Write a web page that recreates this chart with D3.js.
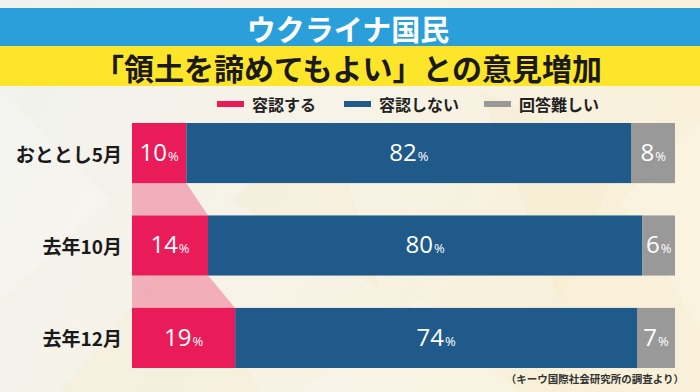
<!DOCTYPE html>
<html>
<head>
<meta charset="utf-8">
<script src="https://cdn.jsdelivr.net/npm/d3@7"></script>
<style>
  html, body { margin: 0; padding: 0; background: #f5f4ef; }
  svg { display: block; }
</style>
</head>
<body>
<svg id="chart"></svg>
<script>
// data
const periods = ["おととし5月", "去年10月", "去年12月"];
const accept = [10, 14, 19];     // 容認する
const reject = [82, 80, 74];     // 容認しない
const unsure = [8, 6, 7];        // 回答難しい
const seriesNames = ["容認する", "容認しない", "回答難しい"];
const colors = ["#e91c59", "#1f5a8b", "#999999"];

const titleTop = "ウクライナ国民";
const titleSub = "「領土を諦めてもよい」との意見増加";
const source = "（キーウ国際社会研究所の調査より）";

const W = 700, H = 392;
const jp = "'Noto Sans CJK JP', 'Noto Sans', sans-serif";

const svg = d3.select("#chart").attr("width", W).attr("height", H);

// background
const defs = svg.append("defs");
const grad = defs.append("linearGradient").attr("id", "bg").attr("x1", 0).attr("x2", 1).attr("y1", 0).attr("y2", 0.3);
grad.append("stop").attr("offset", "0%").attr("stop-color", "#f1f2ef");
grad.append("stop").attr("offset", "55%").attr("stop-color", "#f7f3e6");
grad.append("stop").attr("offset", "100%").attr("stop-color", "#f8f0d8");
svg.append("rect").attr("width", W).attr("height", H).attr("fill", "url(#bg)");

// faint decorative facets
const facets = [
  [[0, 90], [110, 200], [0, 300]],
  [[60, 392], [180, 250], [260, 392]],
  [[300, 392], [420, 300], [520, 392]],
  [[480, 90], [620, 160], [560, 300]],
  [[620, 200], [700, 120], [700, 330]],
  [[230, 200], [330, 120], [380, 290]]
];
svg.append("g").selectAll("polygon").data(facets).join("polygon")
  .attr("points", d => d.map(p => p.join(",")).join(" "))
  .attr("fill", (d, i) => i % 2 ? "#f3e7bf" : "#ffffff")
  .attr("opacity", 0.2);

// title bands
svg.append("rect").attr("x", 0).attr("y", 8).attr("width", W).attr("height", 38).attr("fill", "#2a9fda");
svg.append("rect").attr("x", 0).attr("y", 46).attr("width", W).attr("height", 40).attr("fill", "#fde52a");

svg.append("text").attr("x", 348).attr("y", 28).attr("text-anchor", "middle").attr("dominant-baseline", "central")
  .attr("font-family", jp).attr("font-weight", 700).attr("font-size", 29).attr("fill", "#fff")
  .text(titleTop);
svg.append("text").attr("x", 348).attr("y", 67).attr("text-anchor", "middle").attr("dominant-baseline", "central")
  .attr("font-family", jp).attr("font-weight", 700).attr("font-size", 30).attr("fill", "#1a1a1a")
  .text(titleSub);

// legend
const legendX = [217, 344, 484];
const legend = svg.append("g").selectAll("g").data(seriesNames).join("g")
  .attr("transform", (d, i) => "translate(" + legendX[i] + ",104)");
legend.append("rect").attr("x", 0).attr("y", -3).attr("width", 27).attr("height", 6)
  .attr("fill", (d, i) => colors[i]);
legend.append("text").attr("x", 35).attr("y", 0).attr("dominant-baseline", "central")
  .attr("font-family", jp).attr("font-weight", 700).attr("font-size", 16).attr("fill", "#222")
  .text(d => d);

// scales
const x = d3.scaleLinear().domain([0, 100]).range([132, 675]);
const y = d3.scaleBand().domain(periods).range([123, 368]).paddingInner(0.35).paddingOuter(0);

const rows = periods.map((p, i) => ({
  period: p,
  segs: [accept[i], reject[i], unsure[i]]
}));

// connectors between pink segments
const links = d3.range(periods.length - 1).map(i => [
  [x(0), y(periods[i]) + y.bandwidth()],
  [x(accept[i]), y(periods[i]) + y.bandwidth()],
  [x(accept[i + 1]), y(periods[i + 1])],
  [x(0), y(periods[i + 1])]
]);
svg.append("g").selectAll("polygon").data(links).join("polygon")
  .attr("points", d => d.map(p => p.join(",")).join(" "))
  .attr("fill", "#ee6b8e").attr("opacity", 0.5);

// bars
const rowG = svg.append("g").selectAll("g").data(rows).join("g")
  .attr("transform", d => "translate(0," + y(d.period) + ")");

rowG.each(function(d) {
  let acc = 0;
  const parts = d.segs.map((v, j) => {
    const p = { v: v, j: j, x0: acc, x1: acc + v };
    acc += v;
    return p;
  });
  const g = d3.select(this);
  g.selectAll("rect").data(parts).join("rect")
    .attr("x", p => x(p.x0))
    .attr("width", p => x(p.x1) - x(p.x0))
    .attr("y", 0).attr("height", y.bandwidth())
    .attr("fill", p => colors[p.j]);

  const lab = g.selectAll("text.val").data(parts).join("text").attr("class", "val")
    .attr("x", p => (x(p.x0) + x(p.x1)) / 2)
    .attr("y", y.bandwidth() / 2 + 8)
    .attr("text-anchor", "middle")
    .attr("font-family", "'Open Sans', 'Noto Sans', sans-serif")
    .attr("font-weight", 500)
    .attr("fill", "#fff");
  lab.append("tspan").attr("font-size", 24).text(p => p.v);
  lab.append("tspan").attr("font-size", 13).attr("dx", 1).text("%");
});

// category labels
svg.append("g").selectAll("text").data(periods).join("text")
  .attr("x", 122)
  .attr("y", d => y(d) + y.bandwidth() / 2)
  .attr("text-anchor", "end").attr("dominant-baseline", "central")
  .attr("font-family", jp).attr("font-weight", 700).attr("font-size", 19).attr("fill", "#1a1a1a")
  .text(d => d);

// source note
svg.append("text").attr("x", 684).attr("y", 378).attr("text-anchor", "end").attr("dominant-baseline", "central")
  .attr("font-family", jp).attr("font-weight", 700).attr("font-size", 10.5).attr("fill", "#333")
  .text(source);
</script>
</body>
</html>
